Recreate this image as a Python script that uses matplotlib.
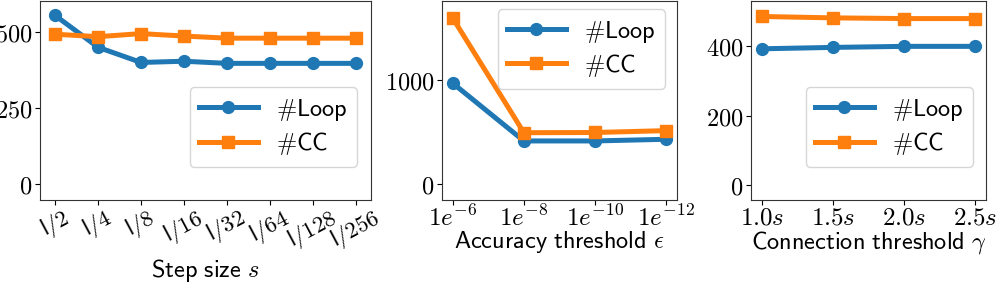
import matplotlib
matplotlib.use("Agg")
import matplotlib.pyplot as plt

plt.rcParams['mathtext.fontset'] = 'cm'
plt.rcParams['font.family'] = ['DejaVu Sans']

# step size panel
step_labels = ["l/2", "l/4", "l/8", "l/16", "l/32", "l/64", "l/128", "l/256"]
step_loop = [556, 451, 401, 405, 398, 398, 398, 398]
step_cc = [494, 486, 496, 488, 481, 481, 481, 481]

# accuracy threshold panel
acc_labels = [r"$1e^{-6}$", r"$1e^{-8}$", r"$1e^{-10}$", r"$1e^{-12}$"]
acc_loop = [965, 411, 411, 427]
acc_cc = [1590, 490, 492, 510]

# connection threshold panel
conn_labels = [r"$1.0s$", r"$1.5s$", r"$2.0s$", r"$2.5s$"]
conn_loop = [393, 397, 400, 400]
conn_cc = [486, 482, 480, 480]

blue = '#1f77b4'
orange = '#ff7f0e'
lw = 3.6
fs = 17.5

fig = plt.figure(figsize=(9.96, 2.82), dpi=100)
ax1 = fig.add_axes([0.0402, 0.291, 0.3323, 0.706])
ax2 = fig.add_axes([0.4438, 0.291, 0.2359, 0.706])
ax3 = fig.add_axes([0.754, 0.291, 0.236, 0.706])


def draw(ax, labels, loop, cc, xlabel, ylim, yticks, legloc, anchor, label_y,
         xfs=18):
    x = list(range(len(labels)))
    ax.plot(x, loop, color=blue, marker='o', lw=lw, ms=8.5, label=r'$\#\mathsf{Loop}$')
    ax.plot(x, cc, color=orange, marker='s', lw=lw, ms=8, label=r'$\#\mathsf{CC}$')
    ax.set_xticks(x)
    ax.set_xticklabels(labels, fontsize=xfs)
    ax.set_yticks(yticks)
    ax.set_yticklabels([r"$%d$" % v for v in yticks], fontsize=17.5)
    ax.set_ylim(*ylim)
    ax.set_xlabel(xlabel, fontsize=fs)
    ax.xaxis.set_label_coords(0.5, label_y)
    ax.tick_params(length=3.5, pad=2)
    ax.tick_params(axis='x', pad=0.5)
    ax.legend(loc=legloc, bbox_to_anchor=anchor, borderaxespad=0, fontsize=fs,
              handlelength=2.4, borderpad=0.4, labelspacing=0.3,
              handletextpad=0.75)
    for sp in ax.spines.values():
        sp.set_color('#333333')


draw(ax1, [r"$\mathsf{l}/\mathsf{%s}$" % s[2:] for s in step_labels],
     step_loop, step_cc,
     r"$\mathsf{Step\ size}\ s$", (-52, 604), [0, 250, 500],
     'lower right', (1 - 14 / 331, 33 / 199), -0.285, xfs=16.5)
draw(ax2, acc_labels, acc_loop, acc_cc,
     r"$\mathsf{Accuracy\ threshold}\ \epsilon$", (-155, 1755), [0, 1000],
     'upper right', (1 - 12 / 235, 1 - 8 / 199), -0.145)
draw(ax3, conn_labels, conn_loop, conn_cc,
     r"$\mathsf{Connection\ threshold}\ \gamma$", (-42, 531), [0, 200, 400],
     'lower right', (1 - 13 / 235, 33 / 199), -0.145)

for lab in ax1.get_xticklabels():
    lab.set_rotation(28)

fig.savefig("out.png", dpi=100)
